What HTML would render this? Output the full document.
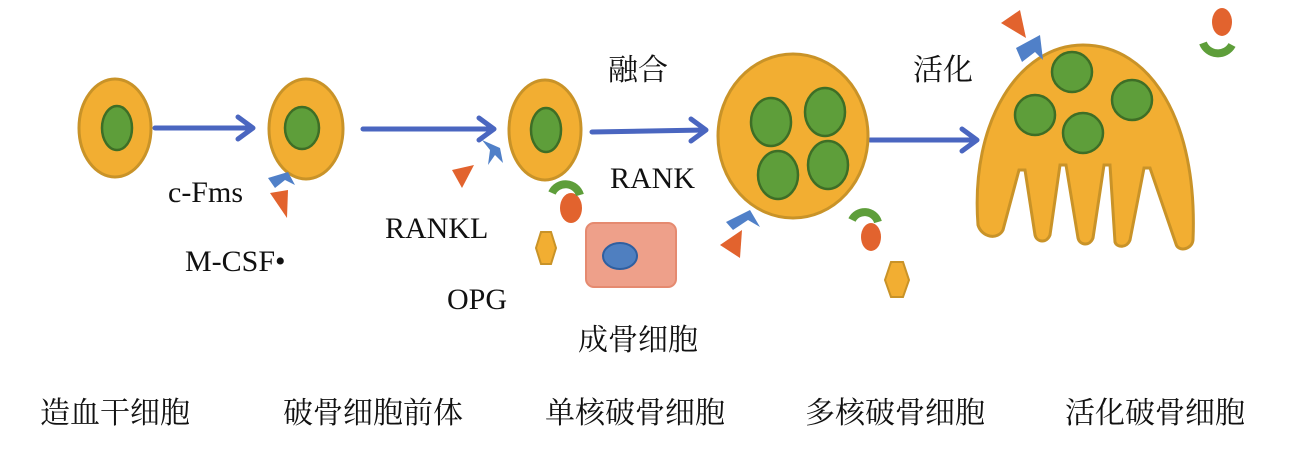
<!DOCTYPE html>
<html><head><meta charset="utf-8"><style>
body{margin:0;background:#fff;}
svg{display:block}
text{font-family:"Liberation Serif","Noto Serif CJK SC",serif;fill:#111;}
</style></head><body>
<svg width="1299" height="463" viewBox="0 0 1299 463" xmlns="http://www.w3.org/2000/svg">
<g stroke="#4a66c0" stroke-width="5" fill="none" stroke-linecap="round" stroke-linejoin="round">
<line x1="155" y1="128" x2="252" y2="128"/><polyline points="238,117 253,128 238,139"/>
<line x1="363" y1="129" x2="493" y2="129"/><polyline points="479,118 494,129 479,140"/>
<line x1="592" y1="132" x2="705" y2="130"/><polyline points="691,119 706,130 691,141"/>
<line x1="870" y1="140" x2="976" y2="140"/><polyline points="962,129 977,140 962,151"/>
</g>
<g fill="#F2AE32" stroke="#C99328" stroke-width="3">
<ellipse cx="115" cy="128" rx="36" ry="49"/>
<ellipse cx="306" cy="129" rx="37" ry="50"/>
<ellipse cx="545" cy="130" rx="36" ry="50"/>
<ellipse cx="793" cy="136" rx="75" ry="82"/>
<path d="M978,225 C970,120 1020,45 1083,45 C1150,45 1198,120 1193,240 C1192,250 1178,252 1176,244 L1150,168 L1144,168 L1130,240 C1127,248 1117,248 1115,242 L1110,165 L1104,165 L1093,238 C1090,246 1080,246 1078,238 L1066,165 L1060,165 L1050,235 C1047,243 1037,243 1035,235 L1025,170 L1019,170 L1003,230 C998,240 982,238 978,225 Z"/>
</g>
<g fill="#5E9E3A" stroke="#3E6E26" stroke-width="2.5">
<ellipse cx="117" cy="128" rx="15" ry="22"/>
<ellipse cx="302" cy="128" rx="17" ry="21"/>
<ellipse cx="546" cy="130" rx="15" ry="22"/>
<ellipse cx="771" cy="122" rx="20" ry="24"/>
<ellipse cx="825" cy="112" rx="20" ry="24"/>
<ellipse cx="778" cy="175" rx="20" ry="24"/>
<ellipse cx="828" cy="165" rx="20" ry="24"/>
<circle cx="1072" cy="72" r="20"/>
<circle cx="1035" cy="115" r="20"/>
<circle cx="1083" cy="133" r="20"/>
<circle cx="1132" cy="100" r="20"/>
</g>
<g fill="#5080C8">
<path d="M268,178 L288,172 L295,185 L285,180 L275,188 Z"/>
<path d="M482,140 L500,148 L503,163 L495,155 L488,165 L490,150 Z"/>
<path d="M726,222 L750,210 L760,227 L748,220 L733,230 Z"/>
<path d="M1016,48 L1040,35 L1043,60 L1035,52 L1022,62 Z"/>
</g>
<g fill="#E2632E">
<path d="M270,193 L288,190 L287,218 Z"/>
<path d="M452,170 L474,165 L462,188 Z"/>
<path d="M720,245 L742,230 L740,258 Z"/>
<path d="M1001,23 L1020,10 L1026,38 Z"/>
<ellipse cx="571" cy="208" rx="11" ry="15"/>
<ellipse cx="871" cy="237" rx="10" ry="14"/>
<ellipse cx="1222" cy="22" rx="10" ry="14"/>
</g>
<g fill="none" stroke="#5E9E3A" stroke-width="8">
<path d="M552,193 A15,15 0 0 1 580,195"/>
<path d="M852,220 A14,14 0 0 1 878,222"/>
<path d="M1203,43 A16,16 0 0 0 1232,45"/>
</g>
<g fill="#F2AE32" stroke="#C99328" stroke-width="2">
<polygon points="541,232 551,232 556,248 551,264 541,264 536,248"/>
<polygon points="891,262 903,262 909,280 903,297 891,297 885,280"/>
</g>
<rect x="586" y="223" width="90" height="64" rx="8" fill="#EEA08A" stroke="#E58A70" stroke-width="2"/>
<ellipse cx="620" cy="256" rx="17" ry="13" fill="#4F7FC0" stroke="#2F5FA0" stroke-width="2"/>
<g font-size="30">
<text x="608" y="80">融合</text>
<text x="610" y="188">RANK</text>
<text x="913" y="80">活化</text>
<text x="168" y="202">c-Fms</text>
<text x="185" y="271">M-CSF•</text>
<text x="385" y="238">RANKL</text>
<text x="447" y="309">OPG</text>
<text x="578" y="350">成骨细胞</text>
<text x="40" y="423">造血干细胞</text>
<text x="283" y="423">破骨细胞前体</text>
<text x="545" y="423">单核破骨细胞</text>
<text x="805" y="423">多核破骨细胞</text>
<text x="1065" y="423">活化破骨细胞</text>
</g>
</svg>
</body></html>
